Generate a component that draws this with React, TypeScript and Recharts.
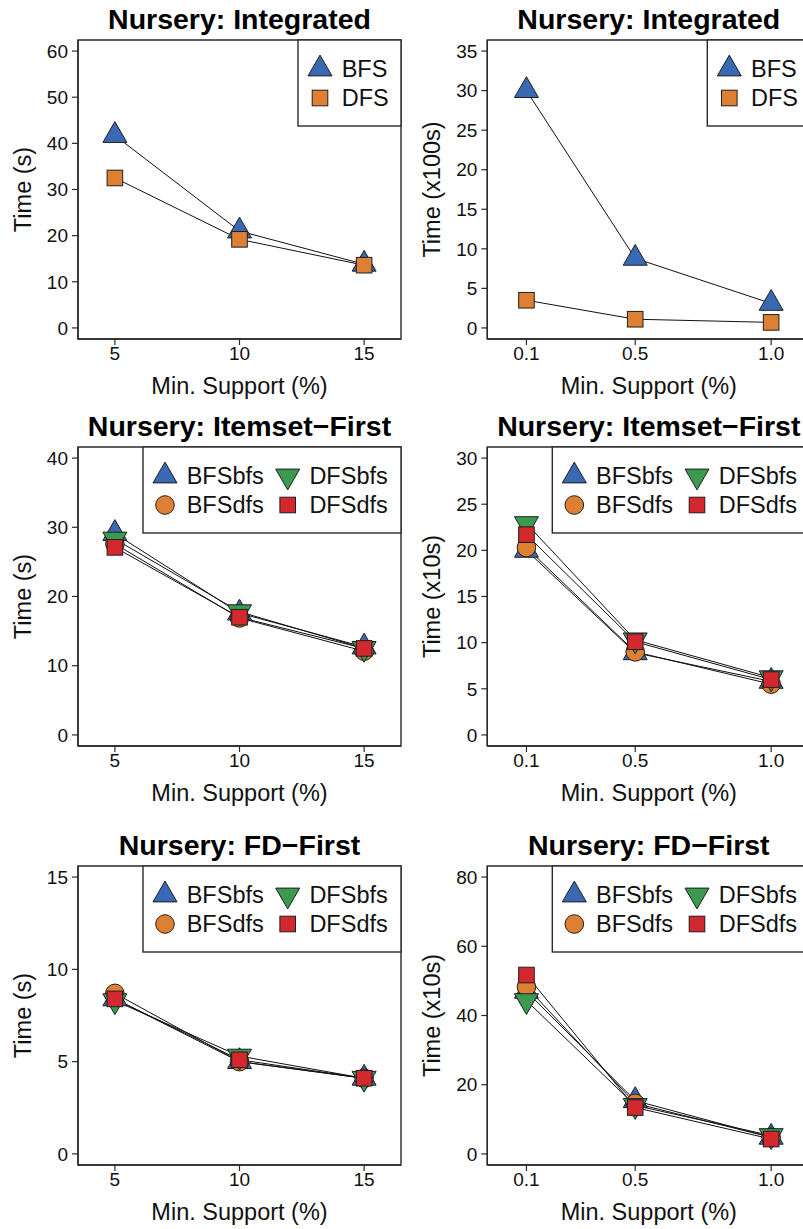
import React from "react";
import { LineChart, Line, XAxis, YAxis, ReferenceArea } from "recharts";

// x categories
const supportPct = [5, 10, 15];
const supportFrac = [0.1, 0.5, 1.0];

// Integrated
const intSecBFS = [41.7, 21.0, 13.8];
const intSecDFS = [32.5, 19.2, 13.6];
const intHundredBFS = [30.0, 8.8, 3.1];
const intHundredDFS = [3.5, 1.1, 0.7];

// Itemset-First
const itemSecBFSbfs = [29.1, 17.6, 12.7];
const itemSecBFSdfs = [27.6, 16.9, 12.1];
const itemSecDFSbfs = [28.3, 17.8, 12.5];
const itemSecDFSdfs = [27.1, 17.0, 12.5];
const itemTenBFSbfs = [20.0, 8.9, 5.8];
const itemTenBFSdfs = [20.3, 9.0, 5.5];
const itemTenDFSbfs = [22.9, 10.3, 6.2];
const itemTenDFSdfs = [21.7, 10.1, 6.0];

// FD-First
const fdSecBFSbfs = [8.4, 5.0, 4.1];
const fdSecBFSdfs = [8.7, 5.0, 4.1];
const fdSecDFSbfs = [8.3, 5.3, 4.1];
const fdSecDFSdfs = [8.4, 5.1, 4.1];
const fdTenBFSbfs = [47.0, 15.4, 4.8];
const fdTenBFSdfs = [48.3, 14.6, 4.8];
const fdTenDFSbfs = [44.3, 14.0, 5.3];
const fdTenDFSdfs = [51.7, 13.4, 4.3];

// tick labels
const pctTicks = [5, 10, 15];
const fracTicks = [0.1, 0.5, 1.0];
const ticks60 = [0, 10, 20, 30, 40, 50, 60];
const ticks35 = [0, 5, 10, 15, 20, 25, 30, 35];
const ticks40 = [0, 10, 20, 30, 40];
const ticks30 = [0, 5, 10, 15, 20, 25, 30];
const ticks15 = [0, 5, 10, 15];
const ticks80 = [0, 20, 40, 60, 80];

const FONT = "'Liberation Sans', Arial, Helvetica, sans-serif";
const AXIS = "#2a2a2a";
const BLUE = "#3A69B4";
const ORANGE = "#DD8033";
const GREEN = "#3B9A4F";
const RED = "#D2282E";

const PLOT_TOP = 40;
const PLOT_W = 323;
const PLOT_H = 299;
const CHART_H = 410;

type Shape = "up" | "down" | "circle" | "square";
interface Series {
  name: string;
  values: number[];
  color: string;
  shape: Shape;
}

const leftCol = { left: 0, width: 405, plotLeft: 78 };
const rightCol = { left: 400, width: 420, plotLeft: 87.3 };

const Marker = ({ shape, cx, cy, color }: { shape: Shape; cx: number; cy: number; color: string }) => {
  const stroke = "#1f1f1f";
  if (shape === "up")
    return (
      <polygon
        points={`${cx},${cy - 13.9} ${cx + 12},${cy + 6.9} ${cx - 12},${cy + 6.9}`}
        fill={color}
        stroke={stroke}
        strokeWidth={1}
      />
    );
  if (shape === "down")
    return (
      <polygon
        points={`${cx},${cy + 13.9} ${cx + 12},${cy - 6.9} ${cx - 12},${cy - 6.9}`}
        fill={color}
        stroke={stroke}
        strokeWidth={1}
      />
    );
  if (shape === "circle")
    return <circle cx={cx} cy={cy} r={9.3} fill={color} stroke={stroke} strokeWidth={1} />;
  return (
    <rect x={cx - 7.8} y={cy - 7.8} width={15.6} height={15.6} fill={color} stroke={stroke} strokeWidth={1} />
  );
};

const LegendBox = ({ series, right, top }: { series: Series[]; right: number; top: number }) => {
  const twoCol = series.length > 2;
  const w = twoCol ? 258 : 103;
  const x0 = right - w;
  return (
    <g>
      <rect x={x0} y={top} width={w} height={86} fill="#fff" stroke={AXIS} strokeWidth={1.4} />
      {series.map((s, i) => {
        const c = twoCol ? Math.floor(i / 2) : 0;
        const r = twoCol ? i % 2 : i;
        const mx = x0 + 22 + c * 122.7;
        const my = top + 29 + r * 29;
        return (
          <g key={s.name}>
            <Marker shape={s.shape} cx={mx} cy={my} color={s.color} />
            <text x={mx + 21.7} y={my + 8.4} fontSize={23.5} fontFamily={FONT} fill="#111">
              {s.name}
            </text>
          </g>
        );
      })}
    </g>
  );
};

interface PanelProps {
  title: string;
  yLabel: string;
  xs: number[];
  xTicks: number[];
  frac: boolean;
  yTicks: number[];
  yMax: number;
  series: Series[];
  col: { left: number; width: number; plotLeft: number };
  rowTop: number;
}

const Panel = ({ title, yLabel, xs, xTicks, frac, yTicks, yMax, series, col, rowTop }: PanelProps) => {
  const plotLeft = col.plotLeft;
  const data = xs.map((x, i) => {
    const row: Record<string, number> = { x };
    series.forEach((s) => (row[s.name] = s.values[i]));
    return row;
  });
  const xDomain = frac ? [-0.044, 1.144] : [3.52, 16.48];
  const yDomain = [-0.04 * yMax, 1.04 * yMax];
  const cx = plotLeft + PLOT_W / 2;

  return (
    <div style={{ position: "absolute", left: col.left, top: rowTop, width: col.width, height: CHART_H }}>
      <LineChart
        width={col.width}
        height={CHART_H}
        data={data}
        margin={{ top: PLOT_TOP, right: col.width - plotLeft - PLOT_W, left: 0, bottom: 0 }}
      >
        <XAxis
          dataKey="x"
          type="number"
          domain={xDomain}
          ticks={xTicks}
          allowDataOverflow
          tickFormatter={(v: number) => (frac ? v.toFixed(1) : String(v))}
          height={CHART_H - PLOT_TOP - PLOT_H}
          tick={{ fill: "#111", fontSize: 19, fontFamily: FONT }}
          tickSize={6}
          tickMargin={2}
          axisLine={{ stroke: AXIS, strokeWidth: 1.4 }}
          tickLine={{ stroke: AXIS, strokeWidth: 1.2 }}
          label={{
            content: () => (
              <text x={cx} y={PLOT_TOP + PLOT_H + 55} textAnchor="middle" fontSize={23.5} fontFamily={FONT} fill="#111">
                Min. Support (%)
              </text>
            ),
          }}
        />
        <YAxis
          type="number"
          domain={yDomain}
          ticks={yTicks}
          allowDataOverflow
          width={plotLeft}
          tick={{ fill: "#111", fontSize: 19, fontFamily: FONT }}
          tickSize={6}
          tickMargin={4}
          axisLine={{ stroke: AXIS, strokeWidth: 1.4 }}
          tickLine={{ stroke: AXIS, strokeWidth: 1.2 }}
          label={{
            content: () => {
              const lx = plotLeft - 47;
              const ly = PLOT_TOP + PLOT_H / 2;
              return (
                <text
                  x={lx}
                  y={ly}
                  transform={`rotate(-90, ${lx}, ${ly})`}
                  textAnchor="middle"
                  fontSize={23.5}
                  fontFamily={FONT}
                  fill="#111"
                >
                  {yLabel}
                </text>
              );
            },
          }}
        />
        <ReferenceArea
          x1={xDomain[0]}
          x2={xDomain[1]}
          y1={yDomain[0]}
          y2={yDomain[1]}
          fill="none"
          fillOpacity={0}
          stroke={AXIS}
          strokeWidth={1.4}
        />
        {series.map((s) => (
          <Line
            key={`line-${s.name}`}
            dataKey={s.name}
            type="linear"
            stroke="#111"
            strokeWidth={1}
            dot={false}
            activeDot={false}
            isAnimationActive={false}
          />
        ))}
        {series.map((s) => (
          <Line
            key={`mark-${s.name}`}
            dataKey={s.name}
            type="linear"
            stroke="none"
            activeDot={false}
            isAnimationActive={false}
            dot={(d: any) => (
              <Marker key={`${s.name}-${d.index}`} shape={s.shape} cx={d.cx} cy={d.cy} color={s.color} />
            )}
          />
        ))}
      </LineChart>
      <svg
        width={col.width}
        height={CHART_H}
        style={{ position: "absolute", left: 0, top: 0, pointerEvents: "none", overflow: "visible" }}
      >
        <text x={cx} y={28.7} textAnchor="middle" fontSize={28.5} fontWeight="bold" fontFamily={FONT} fill="#000">
          {title}
        </text>
        <LegendBox series={series} right={plotLeft + PLOT_W} top={PLOT_TOP} />
      </svg>
    </div>
  );
};

const four = (a: number[], b: number[], c: number[], d: number[]): Series[] => [
  { name: "BFSbfs", values: a, color: BLUE, shape: "up" },
  { name: "BFSdfs", values: b, color: ORANGE, shape: "circle" },
  { name: "DFSbfs", values: c, color: GREEN, shape: "down" },
  { name: "DFSdfs", values: d, color: RED, shape: "square" },
];

const two = (a: number[], b: number[]): Series[] => [
  { name: "BFS", values: a, color: BLUE, shape: "up" },
  { name: "DFS", values: b, color: ORANGE, shape: "square" },
];

export default function App() {
  const rows = [0, 406.5, 825.7];
  return (
    <div
      style={{
        position: "absolute",
        left: 0,
        top: 0,
        width: 803,
        height: 1229,
        overflow: "hidden",
        background: "#fff",
        fontFamily: FONT,
      }}
    >
      <Panel title="Nursery: Integrated" yLabel="Time (s)" xs={supportPct} xTicks={pctTicks} frac={false}
        yTicks={ticks60} yMax={60} series={two(intSecBFS, intSecDFS)} col={leftCol} rowTop={rows[0]} />
      <Panel title="Nursery: Integrated" yLabel="Time (x100s)" xs={supportFrac} xTicks={fracTicks} frac
        yTicks={ticks35} yMax={35} series={two(intHundredBFS, intHundredDFS)} col={rightCol} rowTop={rows[0]} />
      <Panel title="Nursery: Itemset−First" yLabel="Time (s)" xs={supportPct} xTicks={pctTicks} frac={false}
        yTicks={ticks40} yMax={40} series={four(itemSecBFSbfs, itemSecBFSdfs, itemSecDFSbfs, itemSecDFSdfs)}
        col={leftCol} rowTop={rows[1]} />
      <Panel title="Nursery: Itemset−First" yLabel="Time (x10s)" xs={supportFrac} xTicks={fracTicks} frac
        yTicks={ticks30} yMax={30} series={four(itemTenBFSbfs, itemTenBFSdfs, itemTenDFSbfs, itemTenDFSdfs)}
        col={rightCol} rowTop={rows[1]} />
      <Panel title="Nursery: FD−First" yLabel="Time (s)" xs={supportPct} xTicks={pctTicks} frac={false}
        yTicks={ticks15} yMax={15} series={four(fdSecBFSbfs, fdSecBFSdfs, fdSecDFSbfs, fdSecDFSdfs)}
        col={leftCol} rowTop={rows[2]} />
      <Panel title="Nursery: FD−First" yLabel="Time (x10s)" xs={supportFrac} xTicks={fracTicks} frac
        yTicks={ticks80} yMax={80} series={four(fdTenBFSbfs, fdTenBFSdfs, fdTenDFSbfs, fdTenDFSdfs)}
        col={rightCol} rowTop={rows[2]} />
    </div>
  );
}
